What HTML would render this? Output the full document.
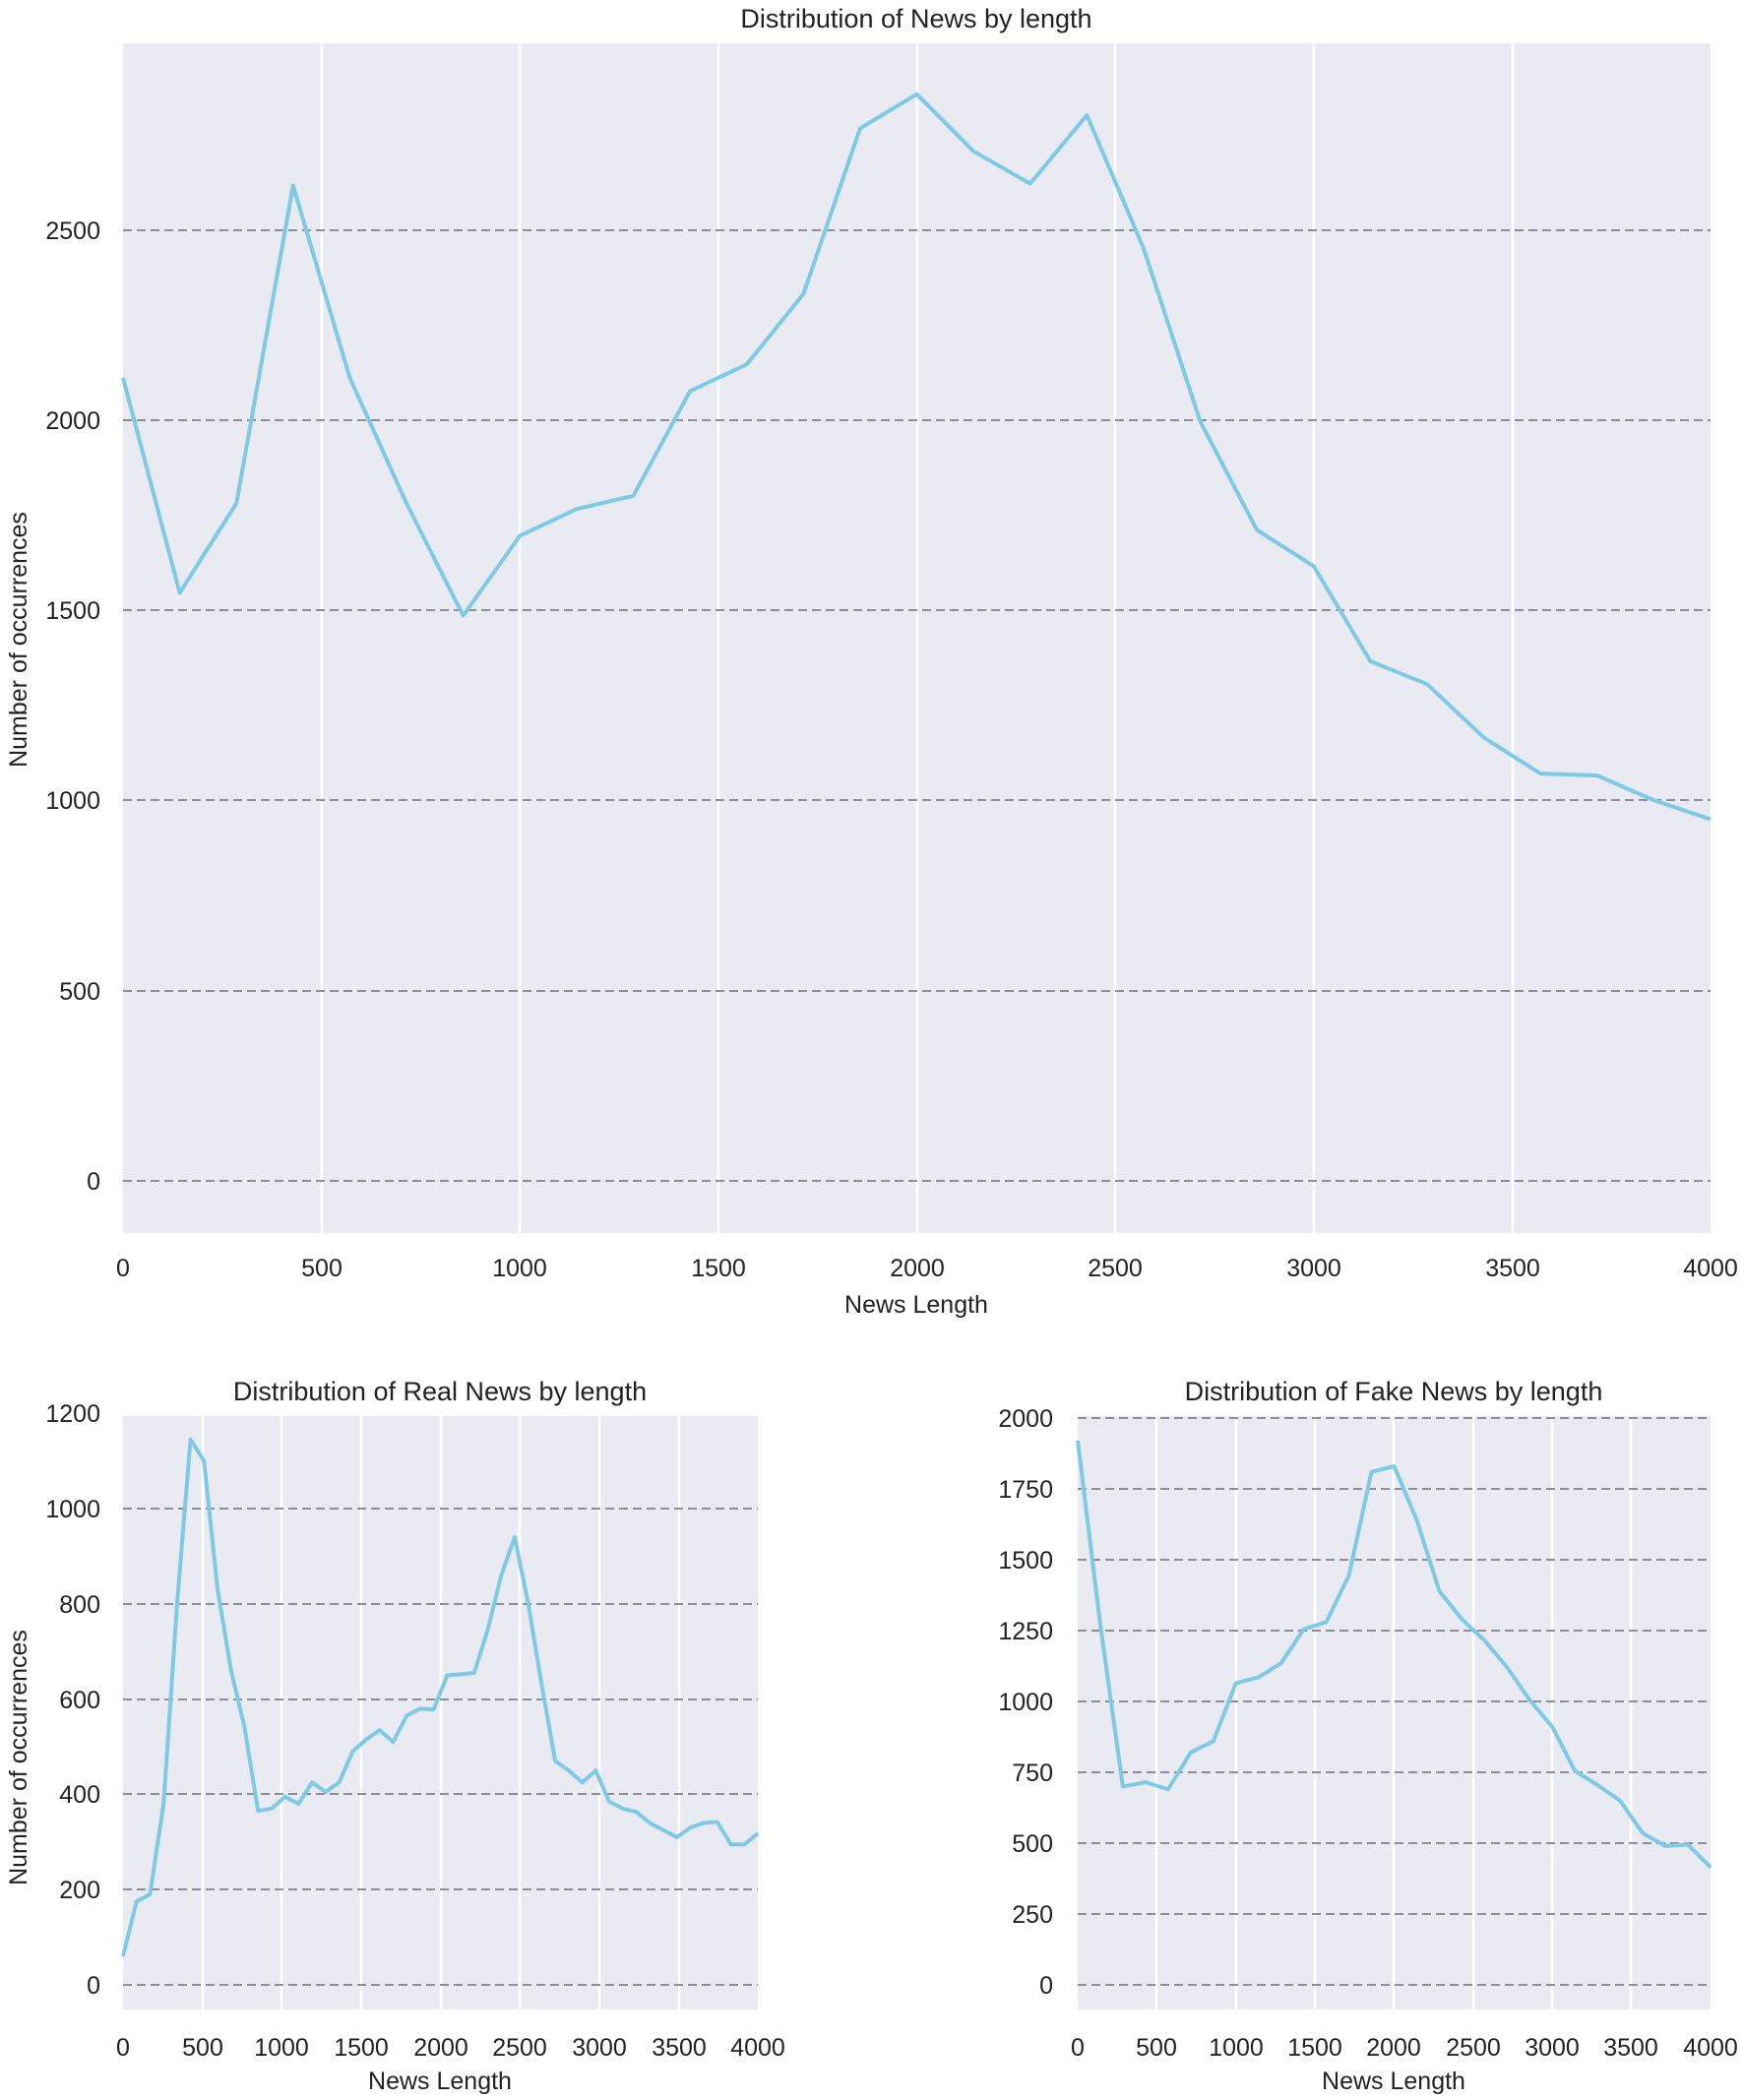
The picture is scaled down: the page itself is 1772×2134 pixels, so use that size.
<!DOCTYPE html>
<html><head><meta charset="utf-8"><style>
body{margin:0;background:#fff}
svg{display:block}
text{font-family:"Liberation Sans",Arial,sans-serif;fill:#222;font-size:25px}
.t{font-size:27px}
</style></head><body>
<svg width="1772" height="2134" viewBox="0 0 1772 2134" xmlns="http://www.w3.org/2000/svg">
<rect x="0" y="0" width="1772" height="2134" fill="#fff"/>
<!-- TOP -->
<rect x="125" y="44" width="1613" height="1209" fill="#eaeaf2"/>
<g stroke="#fff" stroke-width="2.5">
<line x1="327" y1="44" x2="327" y2="1253"/><line x1="528" y1="44" x2="528" y2="1253"/><line x1="730" y1="44" x2="730" y2="1253"/><line x1="932" y1="44" x2="932" y2="1253"/><line x1="1133" y1="44" x2="1133" y2="1253"/><line x1="1335" y1="44" x2="1335" y2="1253"/><line x1="1537" y1="44" x2="1537" y2="1253"/>
</g>
<g stroke="#8e8e96" stroke-width="2" stroke-dasharray="9,5">
<line x1="125" y1="1200" x2="1738" y2="1200"/><line x1="125" y1="1007" x2="1738" y2="1007"/><line x1="125" y1="813" x2="1738" y2="813"/><line x1="125" y1="620" x2="1738" y2="620"/><line x1="125" y1="427" x2="1738" y2="427"/><line x1="125" y1="234" x2="1738" y2="234"/>
</g>
<polyline id="p1" fill="none" stroke="#7ecae6" stroke-width="4" stroke-linejoin="round"/>
<text class="t" x="931" y="28" text-anchor="middle">Distribution of News by length</text>
<g text-anchor="end">
<text x="102" y="1209">0</text><text x="102" y="1016">500</text><text x="102" y="822">1000</text><text x="102" y="629">1500</text><text x="102" y="436">2000</text><text x="102" y="243">2500</text>
</g>
<g text-anchor="middle">
<text x="125" y="1297">0</text><text x="327" y="1297">500</text><text x="528" y="1297">1000</text><text x="730" y="1297">1500</text><text x="932" y="1297">2000</text><text x="1133" y="1297">2500</text><text x="1335" y="1297">3000</text><text x="1537" y="1297">3500</text><text x="1738" y="1297">4000</text>
<text x="931" y="1334" font-size="27">News Length</text>
</g>
<text transform="translate(27,650) rotate(-90)" text-anchor="middle" font-size="27">Number of occurrences</text>

<!-- REAL -->
<rect x="125" y="1439" width="645" height="603" fill="#eaeaf2"/>
<g stroke="#fff" stroke-width="2.5">
<line x1="206" y1="1439" x2="206" y2="2042"/><line x1="286" y1="1439" x2="286" y2="2042"/><line x1="367" y1="1439" x2="367" y2="2042"/><line x1="448" y1="1439" x2="448" y2="2042"/><line x1="528" y1="1439" x2="528" y2="2042"/><line x1="609" y1="1439" x2="609" y2="2042"/><line x1="690" y1="1439" x2="690" y2="2042"/>
</g>
<g stroke="#8e8e96" stroke-width="2" stroke-dasharray="9,5">
<line x1="125" y1="2017" x2="770" y2="2017"/><line x1="125" y1="1920" x2="770" y2="1920"/><line x1="125" y1="1823" x2="770" y2="1823"/><line x1="125" y1="1727" x2="770" y2="1727"/><line x1="125" y1="1630" x2="770" y2="1630"/><line x1="125" y1="1533" x2="770" y2="1533"/>
</g>
<polyline id="p2" fill="none" stroke="#7ecae6" stroke-width="4" stroke-linejoin="round"/>
<text class="t" x="447" y="1423" text-anchor="middle">Distribution of Real News by length</text>
<g text-anchor="end">
<text x="102" y="2026">0</text><text x="102" y="1929">200</text><text x="102" y="1832">400</text><text x="102" y="1736">600</text><text x="102" y="1639">800</text><text x="102" y="1542">1000</text><text x="102" y="1445">1200</text>
</g>
<g text-anchor="middle">
<text x="125" y="2089">0</text><text x="206" y="2089">500</text><text x="286" y="2089">1000</text><text x="367" y="2089">1500</text><text x="448" y="2089">2000</text><text x="528" y="2089">2500</text><text x="609" y="2089">3000</text><text x="690" y="2089">3500</text><text x="770" y="2089">4000</text>
<text x="447" y="2123" font-size="27">News Length</text>
</g>
<text transform="translate(27,1786) rotate(-90)" text-anchor="middle" font-size="27">Number of occurrences</text>

<!-- FAKE -->
<rect x="1095" y="1439" width="643" height="603" fill="#eaeaf2"/>
<g stroke="#fff" stroke-width="2.5">
<line x1="1175" y1="1439" x2="1175" y2="2042"/><line x1="1256" y1="1439" x2="1256" y2="2042"/><line x1="1336" y1="1439" x2="1336" y2="2042"/><line x1="1416" y1="1439" x2="1416" y2="2042"/><line x1="1497" y1="1439" x2="1497" y2="2042"/><line x1="1577" y1="1439" x2="1577" y2="2042"/><line x1="1657" y1="1439" x2="1657" y2="2042"/>
</g>
<g stroke="#8e8e96" stroke-width="2" stroke-dasharray="9,5">
<line x1="1095" y1="2017" x2="1738" y2="2017"/><line x1="1095" y1="1945" x2="1738" y2="1945"/><line x1="1095" y1="1873" x2="1738" y2="1873"/><line x1="1095" y1="1801" x2="1738" y2="1801"/><line x1="1095" y1="1729" x2="1738" y2="1729"/><line x1="1095" y1="1657" x2="1738" y2="1657"/><line x1="1095" y1="1585" x2="1738" y2="1585"/><line x1="1095" y1="1513" x2="1738" y2="1513"/><line x1="1095" y1="1441" x2="1738" y2="1441"/>
</g>
<polyline id="p3" fill="none" stroke="#7ecae6" stroke-width="4" stroke-linejoin="round"/>
<text class="t" x="1416" y="1423" text-anchor="middle">Distribution of Fake News by length</text>
<g text-anchor="end">
<text x="1070" y="2026">0</text><text x="1070" y="1954">250</text><text x="1070" y="1882">500</text><text x="1070" y="1810">750</text><text x="1070" y="1738">1000</text><text x="1070" y="1666">1250</text><text x="1070" y="1594">1500</text><text x="1070" y="1522">1750</text><text x="1070" y="1450">2000</text>
</g>
<g text-anchor="middle">
<text x="1095" y="2089">0</text><text x="1175" y="2089">500</text><text x="1256" y="2089">1000</text><text x="1336" y="2089">1500</text><text x="1416" y="2089">2000</text><text x="1497" y="2089">2500</text><text x="1577" y="2089">3000</text><text x="1657" y="2089">3500</text><text x="1738" y="2089">4000</text>
<text x="1416" y="2123" font-size="27">News Length</text>
</g>
</svg>
<script>
function pl(id,data,x0,w,y0,k){var s=[];for(var i=0;i<data.length;i++){var p=data[i];s.push((x0+p[0]/4000*w).toFixed(1)+","+(y0-p[1]*k).toFixed(1));}document.getElementById(id).setAttribute("points",s.join(" "));}
function step(vals,st){return vals.map(function(v,i){return [Math.min(4000,i*st),v];});}
pl("p1",step([2110,1545,1780,2615,2110,1780,1485,1695,1765,1800,2075,2145,2330,2765,2855,2705,2620,2800,2450,1995,1710,1615,1365,1305,1165,1070,1065,1000,950],4000/28),125,1613,1200,0.3868);
var r=[60,175,190,380,800,1145,1100,830,660,540,365,370,395,380,425,405,425,490,515,535,510,565,580,578,650,652,655,745,860,940,800,630,470,450,425,450,385,370,363,340,325,310,330,340,342,295,295,318];
pl("p2",step(r,4000/(r.length-1)),125,645,2017,0.484);
pl("p3",step([1920,1270,700,715,690,820,860,1065,1085,1135,1255,1280,1445,1810,1830,1640,1390,1290,1215,1120,1005,910,755,705,650,535,490,495,415],4000/28),1095,643,2017,0.288);
</script>
</body></html>
